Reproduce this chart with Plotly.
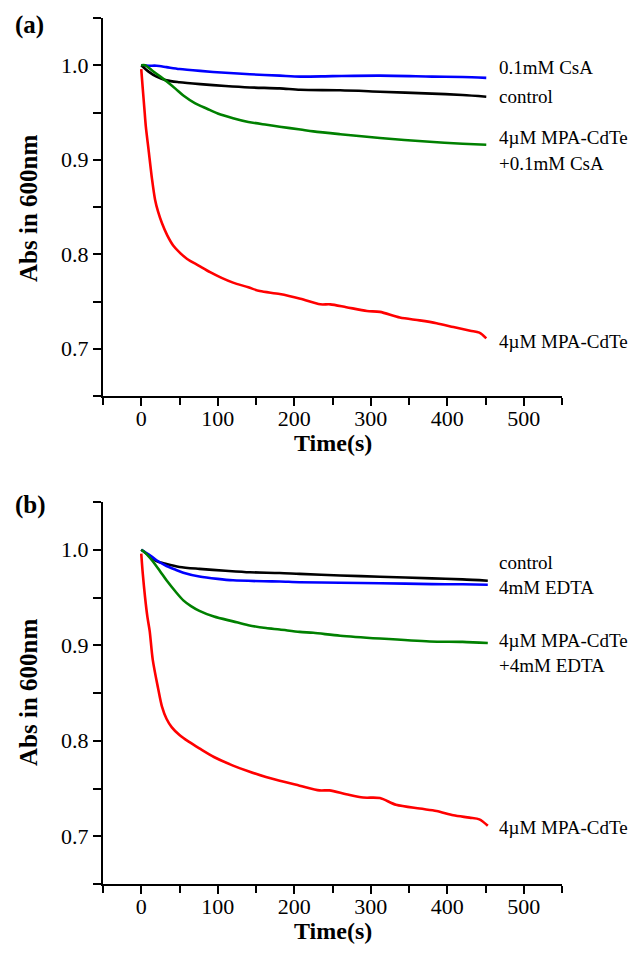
import plotly.graph_objects as go
from plotly.subplots import make_subplots

# ---------------- data: panel (a) ----------------
t_ctrl_a = [0, 10, 20, 33, 50, 77, 110, 142, 181, 208, 260, 312, 380, 420, 451]
v_ctrl_a = [1.0, 0.993, 0.988, 0.984, 0.982, 0.980, 0.978, 0.9765, 0.9755, 0.974, 0.9735, 0.972, 0.970, 0.9685, 0.9667]

t_csa_a = [0, 10, 20, 33, 50, 77, 110, 142, 181, 208, 250, 312, 380, 420, 451]
v_csa_a = [1.0, 0.9995, 0.9995, 0.998, 0.996, 0.994, 0.992, 0.9905, 0.989, 0.988, 0.9885, 0.989, 0.988, 0.9875, 0.9866]

t_mix_a = [0, 5, 15, 25, 33, 45, 55, 70, 86, 100, 120, 140, 164, 181, 208, 225, 260, 312, 377, 420, 451]
v_mix_a = [1.0, 1.0, 0.994, 0.988, 0.983, 0.975, 0.968, 0.960, 0.954, 0.949, 0.944, 0.940, 0.937, 0.935, 0.932, 0.930, 0.927, 0.923, 0.919, 0.917, 0.9158]

t_qd_a = [0, 2, 4, 6, 9.5, 14, 18, 22, 27, 34, 42, 50, 60, 75, 90, 105, 120, 140, 155, 181, 208, 234, 247, 268, 295, 312, 338, 364, 386, 408, 430, 442, 451]
v_qd_a = [0.996, 0.975, 0.955, 0.935, 0.911, 0.88, 0.858, 0.845, 0.833, 0.82, 0.809, 0.802, 0.795, 0.788, 0.781, 0.775, 0.770, 0.765, 0.761, 0.758, 0.753, 0.747, 0.747, 0.744, 0.740, 0.739, 0.733, 0.730, 0.727, 0.723, 0.719, 0.717, 0.711]

# ---------------- data: panel (b) ----------------
t_ctrl_b = [0, 10, 20, 33, 50, 76, 110, 142, 181, 207, 260, 312, 380, 420, 453]
v_ctrl_b = [1.0, 0.994, 0.988, 0.985, 0.982, 0.980, 0.978, 0.9764, 0.9757, 0.9747, 0.973, 0.9718, 0.970, 0.969, 0.9676]

t_edta_b = [0, 10, 20, 33, 45, 55, 76, 100, 120, 160, 181, 207, 260, 312, 380, 420, 453]
v_edta_b = [1.0, 0.995, 0.989, 0.983, 0.979, 0.976, 0.972, 0.9695, 0.968, 0.967, 0.9668, 0.966, 0.9655, 0.965, 0.964, 0.9638, 0.9634]

t_mix_b = [0, 5, 15, 25, 33, 45, 55, 65, 76, 95, 120, 140, 163, 181, 207, 225, 260, 312, 377, 420, 453]
v_mix_b = [1.0, 0.997, 0.988, 0.977, 0.968, 0.956, 0.947, 0.941, 0.936, 0.930, 0.925, 0.921, 0.918, 0.9165, 0.914, 0.913, 0.910, 0.907, 0.904, 0.9035, 0.9024]

t_qd_b = [0, 2, 5, 8, 11, 15, 22, 27, 33, 40, 50, 62, 76, 95, 120, 140, 163, 181, 207, 233, 246, 268, 290, 312, 333, 364, 386, 408, 429, 442, 453]
v_qd_b = [0.996, 0.975, 0.95, 0.93, 0.915, 0.885, 0.855, 0.836, 0.823, 0.814, 0.806, 0.799, 0.792, 0.783, 0.774, 0.768, 0.762, 0.758, 0.753, 0.748, 0.748, 0.744, 0.7405, 0.740, 0.733, 0.729, 0.7265, 0.722, 0.7195, 0.7177, 0.711]

x_tick_vals = [0, 100, 200, 300, 400, 500]
y_tick_vals = [0.7, 0.8, 0.9, 1.0]

labels_a = ["0.1mM CsA", "control", "4µM MPA-CdTe", "+0.1mM CsA", "4µM MPA-CdTe"]
labels_b = ["control", "4mM EDTA", "4µM MPA-CdTe", "+4mM EDTA", "4µM MPA-CdTe"]

# ---------------- figure ----------------
OFF = 8  # page body margin
W, H = 644 - OFF, 956 - OFF
ML, MR, MT, MB = 103 - OFF, 82, 18 - OFF, 72
PW, PH = W - ML - MR, H - MT - MB


def px_x(px):
    return (px - OFF - ML) / PW


def px_y(py):
    return (H - MB - (py - OFF)) / PH


fig = make_subplots(rows=2, cols=1, vertical_spacing=0.0)
dom_a = [px_y(396), px_y(18)]
dom_b = [0.0, px_y(502)]

BLUE, BLACK, GREEN, RED = "#0000ff", "#000000", "#008000", "#ff0000"
LW = 2.6

series = [
    (1, t_csa_a, v_csa_a, BLUE), (1, t_ctrl_a, v_ctrl_a, BLACK),
    (1, t_mix_a, v_mix_a, GREEN), (1, t_qd_a, v_qd_a, RED),
    (2, t_ctrl_b, v_ctrl_b, BLACK), (2, t_edta_b, v_edta_b, BLUE),
    (2, t_mix_b, v_mix_b, GREEN), (2, t_qd_b, v_qd_b, RED),
]
for row, t, v, c in series:
    fig.add_trace(go.Scatter(x=t, y=v, mode="lines",
                             line=dict(color=c, width=LW, shape="spline", smoothing=0.8),
                             showlegend=False, hoverinfo="skip"), row=row, col=1)

FONT = "Liberation Serif, Times New Roman, serif"
axis_common = dict(showline=True, linecolor="black", linewidth=2, mirror=False,
                   ticks="outside", ticklen=8, tickwidth=2, tickcolor="black",
                   showgrid=False, zeroline=False,
                   tickfont=dict(family=FONT, size=22, color="black"))

for i, dom in ((1, dom_a), (2, dom_b)):
    fig.update_xaxes(range=[-50, 550], tickvals=x_tick_vals, ticklabelstandoff=-6,
                     minor=dict(dtick=50, tick0=0, ticks="outside", ticklen=7, tickwidth=2, tickcolor="black"),
                     row=i, col=1, **axis_common)
    fig.update_yaxes(range=[0.65, 1.05], tickvals=y_tick_vals, tickformat=".1f", domain=dom,
                     minor=dict(dtick=0.05, tick0=0.65, ticks="outside", ticklen=8, tickwidth=2, tickcolor="black"),
                     row=i, col=1, **axis_common)

ann = []
# panel letters
for txt, y in (("<b>(a)</b>", 25), ("<b>(b)</b>", 505)):
    ann.append(dict(text=txt, x=px_x(13), y=px_y(y), xref="paper", yref="paper",
                    xanchor="left", yanchor="middle", showarrow=False,
                    font=dict(family=FONT, size=25, color="black")))

# axis titles
titles = [
    ("<b>Abs in 600nm</b>", 28, 209, -90),
    ("<b>Time(s)</b>", 333, 443, 0),
    ("<b>Abs in 600nm</b>", 28, 693, -90),
    ("<b>Time(s)</b>", 333, 931, 0),
]
for txt, x, y, ang in titles:
    ann.append(dict(text=txt, x=px_x(x), y=px_y(y), xref="paper", yref="paper",
                    xanchor="center", yanchor="middle", textangle=ang, showarrow=False,
                    font=dict(family=FONT, size=25 if ang else 24, color="black")))

# curve labels
lab_pos_a = [68, 97, 137, 163, 341]
lab_pos_b = [562, 587, 640, 665, 827]
for txts, ys in ((labels_a, lab_pos_a), (labels_b, lab_pos_b)):
    for txt, y in zip(txts, ys):
        ann.append(dict(text=txt, x=px_x(497), y=px_y(y), xref="paper", yref="paper",
                        xanchor="left", yanchor="middle", showarrow=False,
                        font=dict(family=FONT, size=19, color="black")))

fig.update_layout(width=W, height=H, margin=dict(l=ML, r=MR, t=MT, b=MB),
                  plot_bgcolor="white", paper_bgcolor="white", annotations=ann,
                  showlegend=False)

fig.write_html("out.html")
